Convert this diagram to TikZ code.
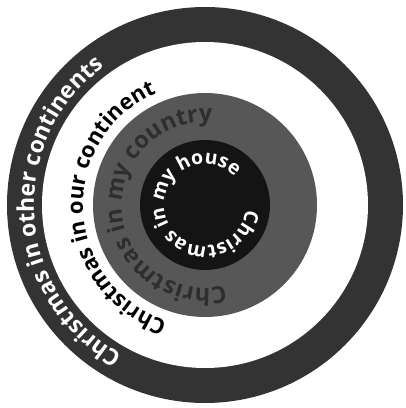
\documentclass[tikz,border=0pt]{standalone}
\usepackage{fontspec}
\setmainfont{Open Sans}
\usetikzlibrary{decorations.text}

\begin{document}
\begin{tikzpicture}[x=1pt, y=1pt,
  farring/.style={fill=black!80},
  midring/.style={fill=black!66},
  core/.style={fill=black!92},
  curved/.style={decorate, decoration={text along path, text align=left, text color=#1}}]

  \useasboundingbox (-205,-203) rectangle (201,205);

  % ===== Rings, from the outside in =====
  \path[farring] (0,0) circle[radius=198];
  \path[fill=white] (0,0) circle[radius=163];
  \path[midring] (0,0) circle[radius=112];
  \path[core] (0,0) circle[radius=65];

  % ===== Texts, running clockwise =====
  \path[curved=white, decoration={text={|\bfseries\fontsize{23}{23}\selectfont|Christmas in other continents}}]
    (241:171) arc[start angle=241, end angle=-90, radius=171];
  \path[curved=black, decoration={text={|\bfseries\fontsize{22}{22}\selectfont|Christmas in our continent}}]
    (252:122) arc[start angle=252, end angle=-80, radius=122];
  \path[curved=black!82, decoration={text={|\bfseries\fontsize{23.5}{23.5}\selectfont|Christmas in my country}}]
    (284:83) arc[start angle=284, end angle=-50, radius=83];
  \path[curved=white, decoration={text={|\bfseries\fontsize{19.5}{19.5}\selectfont|Christmas in my house}}]
    (354:41) arc[start angle=354, end angle=20, radius=41];

\end{tikzpicture}
\end{document}
